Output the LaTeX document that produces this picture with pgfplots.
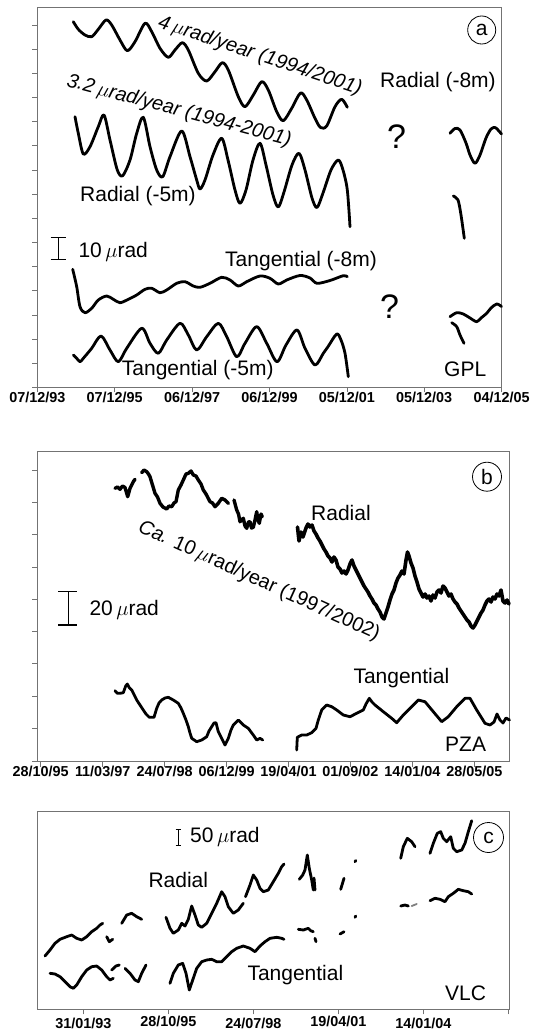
\documentclass[border=0pt]{standalone}
\usepackage{fontspec}
\setmainfont{Liberation Sans}
\usepackage{pgfplots}
\pgfplotsset{compat=1.18}
\newcommand\lab{\fontsize{21}{25}\selectfont}
\newcommand\tlab{\fontsize{14.4}{16}\selectfont\bfseries}
\pgfplotsset{
  panel/.style={
    scale only axis, clip=false,
    axis line style={black!55, line width=0.8pt},
    tick pos=left, tick align=outside, major tick length=5pt,
    tick style={black!55, line width=0.8pt},
    yticklabels={},
    xticklabel style={font=\tlab, anchor=base, inner sep=0pt, yshift=-9.7pt},
    every axis plot/.append style={black, mark=none, line width=2.8pt, line join=round, line cap=round},
  }
}
\begin{document}
\begin{tikzpicture}
\useasboundingbox (0,0) rectangle (546pt,-1032pt);
% ---------------- panel a ----------------
\begin{axis}[panel,
  at={(37.3pt,-387.3pt)}, anchor=south west,
  width=464.3pt, height=380pt,
  xmin=37.3, xmax=501.6, ymin=-387.3, ymax=-7.3,
  xtick={37.3,114.7,192.1,269.5,346.9,424.2,501.6},
  xticklabels={07/12/93,07/12/95,06/12/97,06/12/99,05/12/01,05/12/03,04/12/05},
  ytick={-387.3,-363.2,-339.0,-314.9,-290.8,-266.6,-242.5,-218.4,-194.2,-170.1,-145.9,-121.8,-97.7,-73.5,-49.4,-25.3},
]
\addplot[smooth, tension=0.5] coordinates {(73.3,-21.7)(78.3,-29.3)(85,-35)(91.7,-36.7)(98.3,-29.3)(106,-20)(111.7,-25)(120,-40)(127.3,-50.7)(135,-41.7)(145,-23.3)(151.7,-31.7)(160,-48.3)(168.3,-57.3)(175,-50)(182.3,-42.7)(188.3,-50)(198.3,-73.3)(206.7,-81)(215,-71.7)(222.3,-62.7)(228.3,-70)(238.3,-96.7)(245,-106.7)(253.3,-95)(261.7,-81.7)(268.3,-90)(276.7,-111.7)(283.3,-120.7)(291.7,-108.3)(300.5,-93)(306.7,-100)(315,-118.3)(320.5,-127.5)(326.7,-126)(335,-106.7)(341.7,-99.3)(347.3,-107.3)};
\addplot[smooth, tension=0.5] coordinates {(75,-116.7)(78.3,-133.3)(83.3,-154)(90,-146.7)(98.3,-126.7)(104,-115)(110,-140)(117.3,-170)(122.7,-175.7)(130,-160)(136.7,-133.3)(143.3,-117.3)(150,-146.7)(156.7,-170)(162.7,-176.7)(170,-156.7)(181.7,-131)(190,-156.7)(196.7,-180)(200,-189)(205,-180)(213,-155)(221.7,-138.3)(228,-160)(235,-190)(240,-203.3)(246,-190)(253,-160)(260,-143.3)(266,-165)(273,-195)(278.3,-207)(284,-192)(292,-165)(299,-153.3)(305,-170)(312,-198)(317,-207.5)(323,-193)(331,-170)(338.3,-160)(343,-170)(347.3,-190)(350,-226.7)};
\addplot[smooth, tension=0.5] coordinates {(450,-133.3)(455,-128.5)(460,-130)(466,-143)(470,-155)(475,-163.3)(480,-155)(486,-138)(491,-129)(495,-127.5)(498,-130)(501.5,-134)};
\addplot[smooth, tension=0.5] coordinates {(453.3,-196)(458,-200)(461,-215)(464.3,-238.3)};
\addplot[smooth, tension=0.5] coordinates {(72.7,-269.3)(76.7,-286.7)(80,-306.7)(85,-312.7)(91.7,-308.3)(98.3,-300)(106.7,-296)(113.3,-299.3)(120,-302.7)(128.3,-299.3)(136.7,-295)(145,-289.3)(151.7,-288.3)(160,-292.7)(166.7,-290)(176.7,-283.3)(185,-281.7)(193.3,-286)(200,-287.3)(210,-283.3)(221.7,-277.3)(230,-280)(238.3,-286)(246.7,-281.7)(260,-276)(270,-278.3)(278.3,-284)(286.7,-280)(300,-275.5)(310,-278)(317,-283.3)(330,-280.5)(343.3,-275.7)(347.3,-276.7)};
\addplot[smooth, tension=0.5] coordinates {(73.3,-355)(76.7,-358.3)(80,-361.7)(83.3,-358.3)(91.7,-348.3)(101,-336)(110,-350)(118.3,-361.7)(126.7,-348.3)(141.7,-328.3)(150,-343.3)(158.3,-353.3)(166.7,-340)(180,-323.3)(188.3,-335)(196.7,-350)(206.7,-336.7)(218.3,-323.3)(226.7,-336.7)(236.7,-356.7)(245,-343.3)(256.7,-326.7)(266.7,-343.3)(277,-361.7)(286,-345)(297,-330)(305,-348.3)(315,-365)(323.3,-353.3)(328,-346.7)(336.7,-334)(341,-340)(345,-353.3)(348.3,-376.7)};
\addplot[smooth, tension=0.5] coordinates {(450,-316.7)(456.7,-312.7)(463.3,-314)(470,-318)(476.7,-321.7)(481,-318)(486.7,-313.3)(491,-308)(496.7,-304)(501.5,-306.5)};
\addplot[smooth, tension=0.5] coordinates {(451.7,-322.7)(456.7,-326.7)(460,-335)(464,-343.3)};
% labels
\node[font=\fontsize{20}{24}\selectfont\itshape, rotate=-18.5] at (axis cs:260,-56) {4\,$\mu$rad/year (1994/2001)};
\node[font=\fontsize{20}{24}\selectfont\itshape, rotate=-15] at (axis cs:179,-111) {3.2\,$\mu$rad/year (1994-2001)};
\node[font=\lab, anchor=base west, inner sep=0pt] at (axis cs:380,-87.3) {Radial (-8m)};
\node[font=\lab, anchor=base west, inner sep=0pt] at (axis cs:80,-201.7) {Radial (-5m)};
\node[font=\lab, anchor=base west, inner sep=0pt] at (axis cs:78.3,-257.3) {10\,$\mu$rad};
\node[font=\lab, anchor=base west, inner sep=0pt] at (axis cs:225,-266) {Tangential (-8m)};
\node[font=\lab, anchor=base west, inner sep=0pt] at (axis cs:121.7,-375) {Tangential (-5m)};
\node[font=\lab, anchor=base west, inner sep=0pt] at (axis cs:444,-376.7) {GPL};
\node[font=\fontsize{34}{38}\selectfont] at (axis cs:396.5,-136.7) {?};
\node[font=\fontsize{34}{38}\selectfont] at (axis cs:389.5,-307) {?};
\node[draw, circle, line width=0.8pt, minimum size=28pt, inner sep=0pt, font=\lab] at (axis cs:481.7,-30) {a};
\draw[line width=1.2pt] (axis cs:58.3,-237.3) -- (axis cs:58.3,-259.3);
\draw[line width=1.2pt] (axis cs:50.5,-237.3) -- (axis cs:66,-237.3);
\draw[line width=1.2pt] (axis cs:50.5,-259.3) -- (axis cs:66,-259.3);
\end{axis}
% ---------------- panel b ----------------
\begin{axis}[panel,
  at={(37.3pt,-761.7pt)}, anchor=south west,
  width=472.3pt, height=310pt,
  xmin=37.3, xmax=509.6, ymin=-761.7, ymax=-451.7,
  xtick={40.7,102.65,164.6,226.55,288.5,350.45,412.4,474.35},
  xticklabels={28/10/95,11/03/97,24/07/98,06/12/99,19/04/01,01/09/02,14/01/04,28/05/05},
  ytick={-761.7,-728.4,-696.1,-663.8,-631.5,-599.2,-566.9,-534.6,-502.3,-470.0},
]
\addplot[line width=3.4pt] coordinates {(115,-488.3)(117.5,-487)(120,-489.3)(122.5,-486)(125,-487.5)(127.7,-496.7)(130,-488.3)(133.3,-481.7)(135,-479.3)};
\addplot[line width=3.4pt] coordinates {(141.7,-472.7)(144,-470)(146.7,-471.7)(148.5,-474)(150,-476.7)(152.5,-485)(155,-493.3)(157.5,-497)(160,-503.3)(163,-507)(166.7,-509)(169,-506)(171.7,-506.7)(174,-503)(176,-501.7)(178.3,-490)(181,-485)(183.3,-480)(186,-474)(188.3,-473.3)(191,-471)(193.3,-475)(196,-476)(198.3,-480)(201,-484)(203.3,-490)(206,-494)(210,-501.7)(212.5,-503)(215,-506.7)(218.3,-503.3)(221.7,-498.3)(225,-500)(228.3,-503.3)};
\addplot[line width=3.4pt] coordinates {(234,-500)(236.7,-510)(238.5,-514)(240,-521.7)(243.3,-518.3)(245,-526)(246.7,-528.3)(248.5,-522)(250,-521.7)(251.5,-528)(253.3,-527.3)(255,-520)(256.7,-511.7)(258,-520)(259.3,-523.3)(261,-514)(262.3,-516.7)};
\addplot[line width=3.6pt] coordinates {(297.5,-527)(299,-541)(301,-532)(303,-537)(306,-528)(308,-524)(310,-527)(312,-525)(314,-531)(316,-534)(318,-538)(320,-541)(322,-545)(324,-549)(326,-552)(328,-556)(330,-558)(332,-562)(334,-557)(336,-560)(338,-567)(340,-569)(342,-573)(344,-571)(346,-574)(348,-570)(350,-564)(352,-560)(354,-566)(356,-570)(358,-574)(360,-578)(362,-582)(364,-586)(366,-589)(368,-592)(370,-596)(372,-599)(374,-603)(376,-605)(378,-609)(380,-612)(382,-617)(384,-619)(386,-613)(388,-607)(390,-600)(392,-594)(394,-590)(396,-583)(398,-578)(400,-575)(402,-571)(404,-574)(406,-560)(407.5,-552)(409,-556)(411,-563)(413,-568)(415,-576)(417,-582)(419,-589)(421,-593)(423,-597)(425,-594)(427,-598)(429,-596)(431,-601)(433,-595)(435,-598)(437,-592)(439,-590)(441,-593)(443,-586)(445,-588)(447,-592)(449,-596)(451,-594)(453,-599)(455,-602)(457,-604)(459,-608)(461,-611)(463,-614)(465,-617)(467,-620)(469,-622)(471,-626)(473,-628)(475,-625)(477,-621)(479,-617)(481,-613)(483,-610)(485,-605)(487,-601)(489,-599)(491,-602)(493,-597)(495,-599)(497,-594)(499,-596)(501,-590)(503,-601)(505,-603)(507,-600)(509,-604)};
\addplot[line width=2.8pt] coordinates {(115,-690.7)(117.3,-693.3)(120,-693.3)(123.3,-692.7)(125.7,-686)(127.3,-684)(129,-687.3)(131.7,-690)(136.7,-700)(140,-705)(143.3,-710)(146,-714)(149.3,-717.3)(154,-717.3)(156.7,-708.3)(159,-703)(161.7,-700)(165,-698)(168.3,-697.3)(173.3,-700)(178.3,-703.3)(181,-708)(183.3,-713.3)(186,-720)(188.3,-726.7)(190,-733)(191.7,-738.3)(196.7,-741.7)(201.7,-740)(206.7,-736.7)(209,-731)(211.7,-726.7)(214,-723)(216,-722.7)(218.3,-731.7)(221.7,-738.3)(225,-745)(228.3,-738.3)(231,-730)(233.3,-725)(238.3,-720)(243.3,-725)(248.3,-728.3)(253.3,-735)(256.7,-740)(260,-738.3)(262.7,-740)};
\addplot[line width=2.8pt] coordinates {(296.7,-750)(297.3,-737.3)(301.7,-735)(306.7,-735)(311.7,-732.7)(316,-728.3)(318.3,-720)(321.7,-710)(326.7,-705)(331.7,-706.7)(336.7,-710)(343.3,-715)(350,-716.7)(356.7,-713.3)(363.3,-710)(366,-704)(369.3,-698.3)(372,-702)(375,-705)(383.3,-711.7)(391.7,-718.3)(396.7,-722.7)(403.3,-715)(410,-708.3)(418.3,-700)(425,-701.7)(433.3,-711.7)(441.7,-721.7)(448.3,-716.7)(456.7,-706.7)(465,-698.3)(470,-698.3)(476.7,-710)(485,-723.3)(490,-725)(494,-722)(497,-714)(500,-720)(503,-723)(506,-718)(509.5,-720)};
\node[font=\lab, anchor=base west, inner sep=0pt] at (axis cs:311,-520.7) {Radial};
\node[font=\fontsize{20}{24}\selectfont, rotate=-24.5] at (axis cs:259,-581) {\textit{Ca.} 10\,$\mu$rad/year (1997/2002)};
\node[font=\lab, anchor=base west, inner sep=0pt] at (axis cs:89.3,-615) {20\,$\mu$rad};
\node[font=\lab, anchor=base west, inner sep=0pt] at (axis cs:353.3,-683.3) {Tangential};
\node[font=\lab, anchor=base west, inner sep=0pt] at (axis cs:445,-751.7) {PZA};
\node[draw, circle, line width=0.8pt, minimum size=29pt, inner sep=0pt, font=\lab] at (axis cs:487,-476.7) {b};
\draw[line width=1.2pt] (axis cs:68.3,-591.7) -- (axis cs:68.3,-625);
\draw[line width=1.2pt] (axis cs:58.3,-591.7) -- (axis cs:76.7,-591.7);
\draw[line width=1.2pt] (axis cs:58.3,-625) -- (axis cs:76.7,-625);
\end{axis}
% ---------------- panel c ----------------
\begin{axis}[panel,
  at={(37.3pt,-1009.3pt)}, anchor=south west,
  width=472.3pt, height=197.6pt,
  xmin=37.3, xmax=509.6, ymin=-1009.3, ymax=-811.7,
  xtick={83.3,168.3,253.3,338.3,423.3,508.3},
  xticklabels={\raisebox{-2pt}{31/01/93},28/10/95,\raisebox{-1.5pt}{24/07/98},19/04/01,\raisebox{-2pt}{14/01/04},{}},
  xticklabel style={yshift=-2.5pt},
  ytick=\empty,
]
\addplot[] coordinates {(45,-956)(50,-950)(55,-943.3)(60,-939.3)(66.7,-936.7)(71.7,-935)(76.7,-938.3)(81.7,-940)(86.7,-936.7)(91.7,-931.7)(96.7,-928.3)(100,-925)(102.7,-923.3)};
\addplot[] coordinates {(106.7,-936.7)(109.3,-941.7)(112.7,-939.3)};
\addplot[] coordinates {(121.7,-923.3)(126.7,-915)(131.7,-913.3)(136.7,-916.7)(141.7,-919.3)};
\addplot[] coordinates {(166,-917.3)(170,-928.3)(173.3,-933.3)(178.3,-930)(181.7,-923.3)(185,-926)(188.3,-919.3)(191.7,-906)(195,-915)(198.3,-925)(201.7,-927.3)(206.7,-923.3)(211.7,-913.3)(216.7,-903.3)(221.7,-891.7)(225,-896.7)(228.3,-906.7)(233.3,-913.3)(238.3,-910)(243.3,-903.3)};
\addplot[] coordinates {(245.5,-896.7)(250,-885)(253.3,-875)(256.7,-880)(260,-888.3)(263.3,-891.7)(268.3,-890)(273.3,-881.7)(278.3,-873.3)(281.7,-866.7)(284,-864)};
\addplot[] coordinates {(299.3,-879.3)(302.7,-875)(305,-870)(307.3,-855)(309.3,-868.3)(311.7,-880)(313.3,-890)};
\addplot[] coordinates {(314,-878)(315,-890)};
\addplot[] coordinates {(340.7,-889.3)(344,-878.3)};
\addplot[] coordinates {(355,-861.7)(355.8,-860.5)};
\addplot[] coordinates {(400.7,-858.3)(403.3,-846.7)(407.3,-838.3)(411.7,-841.7)(415,-846.7)};
\addplot[] coordinates {(430,-853.3)(433.3,-843.3)(437.3,-833.3)(440.7,-831.7)(443.3,-838.3)(446.7,-841.7)(450.7,-836.7)(453.3,-848.3)(456.7,-851.7)(461.7,-850)(465,-843.3)(468.3,-831.7)(471.7,-820.7)};
\addplot[] coordinates {(50,-973.3)(55,-974)(60,-976.7)(65,-981.7)(70,-986.7)(73.3,-988.3)(76.7,-985)(81.7,-976.7)(86.7,-970)(91.7,-966.7)(96.7,-966)(101.7,-970)(106.7,-976.7)(110,-980)(113.3,-978.3)};
\addplot[] coordinates {(111.7,-970)(116,-966)(119.3,-965)};
\addplot[] coordinates {(125,-968.3)(130,-973.3)(135,-980)(138.3,-981.7)(141.7,-973.3)(146,-965)};
\addplot[] coordinates {(170,-983.3)(173.3,-973.3)(178.3,-965)(182.7,-963.3)(186,-973.3)(189.3,-990)(192.7,-980)(196.7,-968.3)(201.7,-961.7)(206.7,-960)(211.7,-959.3)(216.7,-961.7)(221.7,-961.7)(226.7,-956.7)(231.7,-951.7)(236.7,-948.3)(243.3,-946)(250,-948.3)(255,-951.7)(260,-946)(265,-941.7)(270,-938.3)(276.7,-937.3)(281.7,-938.3)(284,-939.3)};
\addplot[] coordinates {(298.3,-929.3)(303.3,-930)(308.3,-928.3)(310.7,-930.7)(313.3,-931.7)};
\addplot[] coordinates {(315,-938.3)(316,-941.7)};
\addplot[] coordinates {(340,-934)(344,-931.7)};
\addplot[] coordinates {(355,-917.3)(355.8,-916)};
\addplot[] coordinates {(400.7,-906)(405,-905)(408.3,-906)};
\addplot[gray, line width=1.8pt] coordinates {(411.7,-906)(416.7,-904)};
\addplot[] coordinates {(430,-900.7)(435,-898.3)(440,-899.3)(445,-901.7)(448.3,-896.7)(453.3,-893.3)(458.3,-889.3)(463.3,-890.7)(468.3,-891.7)(471.7,-894)};
\node[font=\lab, anchor=base west, inner sep=0pt] at (axis cs:190,-842.7) {50\,$\mu$rad};
\node[font=\lab, anchor=base west, inner sep=0pt] at (axis cs:148.3,-887.3) {Radial};
\node[font=\lab, anchor=base west, inner sep=0pt] at (axis cs:247.3,-980) {Tangential};
\node[font=\lab, anchor=base west, inner sep=0pt] at (axis cs:445,-1000) {VLC};
\node[draw, circle, line width=0.8pt, minimum size=30pt, inner sep=0pt, font=\lab] at (axis cs:488.5,-837.5) {c};
\draw[line width=1.2pt] (axis cs:178.3,-829.7) -- (axis cs:178.3,-845.7);
\draw[line width=1.2pt] (axis cs:175.5,-829.7) -- (axis cs:181.1,-829.7);
\draw[line width=1.2pt] (axis cs:175.5,-845.7) -- (axis cs:181.1,-845.7);
\end{axis}
\end{tikzpicture}
\end{document}
